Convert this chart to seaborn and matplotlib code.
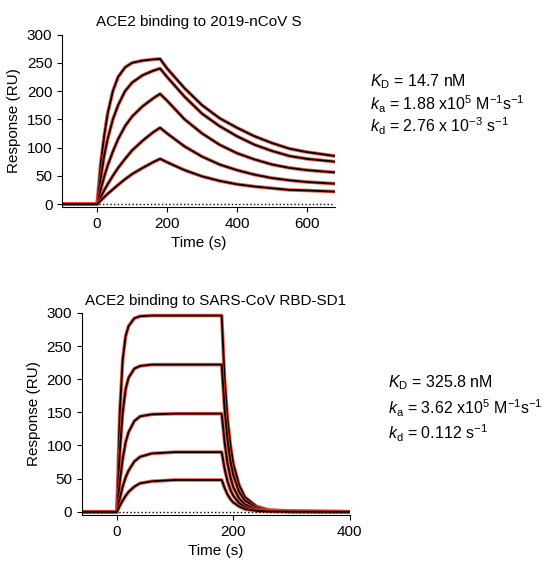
import matplotlib
matplotlib.use("Agg")
import matplotlib.pyplot as plt
import seaborn as sns
import pandas as pd

# ---- top panel data (2019-nCoV S) ----
t_top = [-100, 0, 10, 20, 30, 45, 60, 80, 100, 130, 160, 180,
         200, 250, 300, 350, 400, 450, 500, 550, 600, 680]
top_c1 = [0, 0, 70, 120, 160, 200, 225, 242, 250, 254, 256, 257,
          240, 205, 175, 152, 135, 120, 108, 98, 92, 85]
top_c2 = [0, 0, 45, 85, 115, 150, 175, 200, 215, 228, 236, 240,
          225, 190, 160, 138, 120, 105, 94, 85, 80, 75]
top_c3 = [0, 0, 25, 48, 68, 93, 115, 138, 155, 173, 187, 195,
          183, 150, 125, 105, 90, 79, 70, 64, 60, 56]
top_c4 = [0, 0, 12, 24, 35, 50, 64, 80, 95, 112, 127, 135,
          125, 102, 84, 70, 60, 52, 46, 42, 39, 36]
top_c5 = [0, 0, 6, 12, 18, 26, 34, 44, 53, 64, 74, 80,
          74, 60, 49, 41, 35, 31, 28, 25, 24, 22]

# ---- bottom panel data (SARS-CoV RBD-SD1) ----
t_bot = [-60, 0, 5, 10, 15, 20, 30, 40, 60, 100, 180,
         185, 190, 195, 200, 210, 220, 240, 260, 300, 400]
bot_c1 = [0, 0, 150, 230, 265, 280, 292, 295, 296, 296, 296,
          200, 140, 100, 72, 40, 22, 8, 3, 1, 0]
bot_c2 = [0, 0, 90, 150, 185, 202, 216, 220, 222, 222, 222,
          155, 108, 76, 55, 30, 17, 6, 2, 0.5, 0]
bot_c3 = [0, 0, 45, 80, 105, 120, 137, 144, 147, 148, 148,
          105, 73, 52, 37, 20, 11, 4, 1.5, 0.5, 0]
bot_c4 = [0, 0, 20, 38, 52, 62, 76, 83, 88, 90, 90,
          65, 46, 33, 24, 13, 7, 2.5, 1, 0.3, 0]
bot_c5 = [0, 0, 9, 17, 24, 30, 38, 43, 46, 48, 48,
          36, 26, 19, 14, 8, 4, 1.5, 0.5, 0.2, 0]

sns.set_style("ticks")
plt.rcParams['font.family'] = ['Liberation Sans', 'DejaVu Sans']
plt.rcParams['mathtext.fontset'] = 'custom'
plt.rcParams['mathtext.rm'] = 'Liberation Sans'
plt.rcParams['mathtext.it'] = 'Liberation Sans:italic'
for k in ['text.color', 'axes.labelcolor', 'xtick.color', 'ytick.color', 'axes.edgecolor']:
    plt.rcParams[k] = 'black'

fig = plt.figure(figsize=(5.5, 5.86), dpi=100)
ax1 = fig.add_axes([0.113, 0.647, 0.496, 0.294])
ax2 = fig.add_axes([0.149, 0.121, 0.487, 0.345])

def draw(ax, t, curves):
    for c in curves:
        df = pd.DataFrame({"t": t, "r": c})
        sns.lineplot(data=df, x="t", y="r", ax=ax, color="#e8412c", lw=2.6, alpha=0.85)
        sns.lineplot(data=df, x="t", y="r", ax=ax, color="black", lw=1.3)
    ax.axhline(0, color="black", ls=":", lw=1)
    ax.set_ylim(-5, 300)
    ax.set_yticks([0, 50, 100, 150, 200, 250, 300])
    ax.set_xlabel("Time (s)", fontsize=11)
    ax.set_ylabel("Response (RU)", fontsize=11)
    ax.tick_params(labelsize=11)
    sns.despine(ax=ax)

draw(ax1, t_top, [top_c1, top_c2, top_c3, top_c4, top_c5])
ax1.set_xlim(-100, 680)
ax1.set_xticks([0, 200, 400, 600])
ax1.set_title("ACE2 binding to 2019-nCoV S", fontsize=11)

draw(ax2, t_bot, [bot_c1, bot_c2, bot_c3, bot_c4, bot_c5])
ax2.set_xlim(-60, 400)
ax2.set_xticks([0, 200, 400])
ax2.set_title("ACE2 binding to SARS-CoV RBD-SD1", fontsize=11)

fs = 11.5
fig.text(370/550, 1-82/586, r"$\mathit{K}_\mathrm{D}$ = 14.7 nM", fontsize=fs, va="center")
fig.text(370/550, 1-104/586, r"$\mathit{k}_\mathrm{a}$ = 1.88 x10$^5$ M$^{-1}$s$^{-1}$", fontsize=fs, va="center")
fig.text(370/550, 1-126/586, r"$\mathit{k}_\mathrm{d}$ = 2.76 x 10$^{-3}$ s$^{-1}$", fontsize=fs, va="center")
fig.text(388/550, 1-383/586, r"$\mathit{K}_\mathrm{D}$ = 325.8 nM", fontsize=fs, va="center")
fig.text(388/550, 1-408/586, r"$\mathit{k}_\mathrm{a}$ = 3.62 x10$^5$ M$^{-1}$s$^{-1}$", fontsize=fs, va="center")
fig.text(388/550, 1-433/586, r"$\mathit{k}_\mathrm{d}$ = 0.112 s$^{-1}$", fontsize=fs, va="center")

fig.savefig("out.png", dpi=100)
